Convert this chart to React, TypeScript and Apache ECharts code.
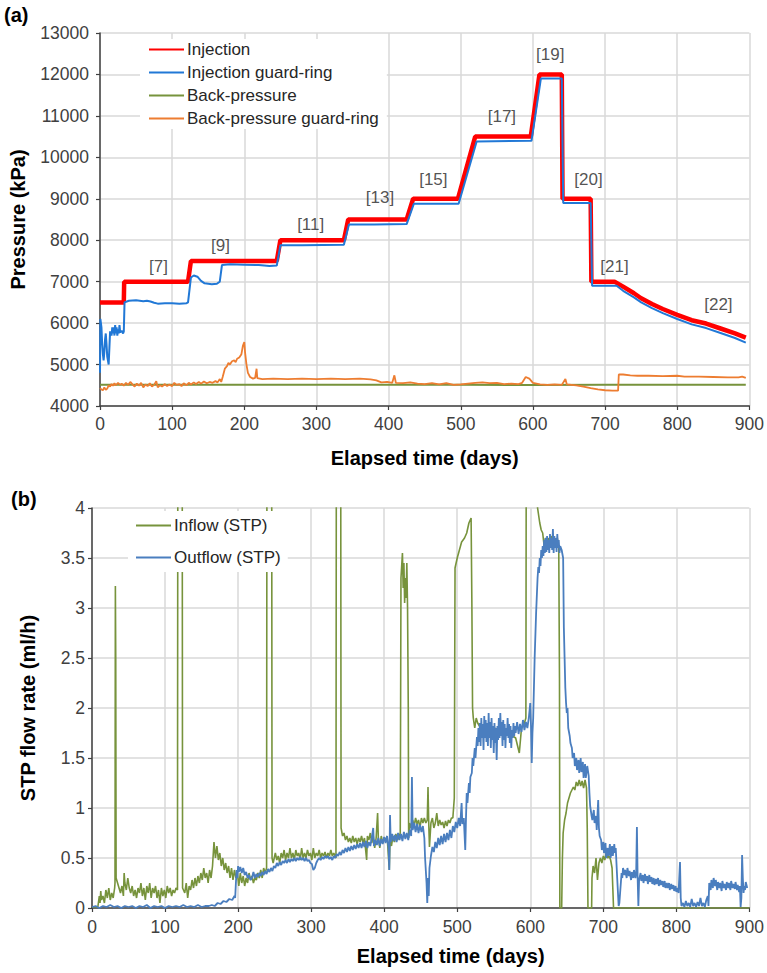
import React, { useEffect, useRef } from "react";
import * as echarts from "echarts";

// ---------- (a) pressures (kPa) vs elapsed time (days) ----------
const injection: [number, number][] = [
  [0, 6500], [33, 6500], [33.5, 7000], [122, 7000], [126, 7500], [245, 7500], [250, 8000],
  [338, 8000], [344, 8500], [425, 8500], [434, 9000], [496, 9000], [520, 10500], [597, 10500],
  [609, 12000], [640, 12000], [641, 9000], [680, 9000], [681, 7000], [713, 7000], [725, 6880],
  [740, 6720], [750, 6600], [765, 6460], [780, 6340], [800, 6200], [820, 6070], [840, 5990],
  [860, 5870], [880, 5750], [895, 5650],
];

const injectionGuard: [number, number][] = [
  [0, 4800], [0.5, 6100], [2, 5900], [3, 5500], [4, 5250], [5, 5100], [6, 5300], [7, 5600],
  [8, 5750], [9, 5500], [10, 5200], [12, 5000], [13, 5400], [14, 5800], [16, 5700], [17, 5900],
  [18, 5750], [19, 5900], [20, 5700], [21, 5950], [22, 5750], [23, 5900], [24, 5700], [25, 5850],
  [26, 5750], [27, 5950], [28, 5780], [30, 5820], [32, 5750], [33, 5800], [34, 6500], [40, 6540],
  [50, 6550], [60, 6530], [65, 6540], [70, 6520], [75, 6490], [80, 6470], [90, 6480], [100, 6480],
  [110, 6470], [120, 6480], [122, 6500], [126, 7100], [130, 7150], [135, 7120], [140, 7020],
  [145, 6960], [155, 6940], [162, 6950], [166, 7000], [169, 7400], [180, 7420], [200, 7410],
  [220, 7400], [235, 7380], [245, 7390], [250, 7880], [280, 7880], [338, 7890], [345, 8380],
  [380, 8380], [425, 8390], [435, 8880], [497, 8880], [522, 10380], [598, 10400], [611, 11900],
  [640, 11900], [642, 8900], [680, 8900], [682, 6900], [716, 6900], [725, 6780], [740, 6620],
  [750, 6500], [765, 6360], [780, 6240], [800, 6100], [820, 5970], [840, 5880], [860, 5760],
  [880, 5640], [895, 5530],
];

const backPressure: [number, number][] = [
  [0, 4510], [100, 4510], [200, 4515], [300, 4510], [400, 4510], [500, 4510], [600, 4505],
  [700, 4510], [800, 4510], [895, 4510],
];

const backPressureGuard: [number, number][] = [
  [0, 4430], [2, 4400], [4, 4380], [6, 4450], [8, 4390], [10, 4420], [12, 4500], [14, 4470],
  [16, 4530], [18, 4490], [20, 4550], [22, 4500], [25, 4560], [28, 4510], [30, 4540], [33, 4490],
  [36, 4560], [39, 4510], [42, 4580], [45, 4520], [48, 4470], [51, 4540], [54, 4490], [57, 4560],
  [60, 4450], [63, 4520], [66, 4480], [69, 4550], [72, 4470], [75, 4510], [78, 4600], [80, 4450],
  [83, 4500], [86, 4470], [90, 4530], [93, 4480], [96, 4520], [100, 4480], [103, 4560], [106, 4510],
  [110, 4530], [113, 4480], [116, 4550], [120, 4500], [123, 4560], [126, 4520], [130, 4570],
  [133, 4530], [137, 4580], [140, 4540], [144, 4590], [148, 4550], [152, 4580], [156, 4560],
  [160, 4600], [163, 4570], [166, 4650], [168, 4580], [170, 4700], [173, 4900], [176, 4960],
  [178, 5040], [180, 5000], [183, 5080], [186, 5100], [188, 5060], [190, 5140], [193, 5170],
  [196, 5250], [198, 5450], [200, 5540], [201, 5300], [203, 5000], [205, 4800], [208, 4700],
  [212, 4660], [215, 4680], [217, 4900], [218, 4670], [225, 4650], [240, 4660], [260, 4650],
  [280, 4660], [300, 4650], [320, 4660], [340, 4650], [360, 4660], [375, 4640], [383, 4620],
  [390, 4570], [398, 4580], [405, 4560], [408, 4740], [410, 4560], [420, 4550], [430, 4570],
  [440, 4540], [450, 4530], [460, 4550], [470, 4520], [480, 4550], [490, 4510], [500, 4520],
  [510, 4540], [520, 4560], [530, 4570], [540, 4550], [550, 4560], [560, 4530], [570, 4540],
  [580, 4530], [585, 4560], [590, 4700], [595, 4660], [600, 4560], [610, 4520], [620, 4510],
  [630, 4520], [640, 4510], [645, 4650], [647, 4520], [660, 4500], [670, 4470], [680, 4430],
  [690, 4400], [700, 4380], [710, 4370], [718, 4370], [719, 4760], [725, 4760], [735, 4740],
  [745, 4730], [760, 4730], [780, 4720], [800, 4730], [810, 4710], [830, 4710], [850, 4700],
  [870, 4690], [885, 4690], [890, 4710], [895, 4680],
];

const stepLabels = ["[7]", "[9]", "[11]", "[13]", "[15]", "[17]", "[19]", "[20]", "[21]", "[22]"];
const stepLabelDays = [81, 167, 292, 388, 462, 557, 624, 677, 713, 857];
const stepLabelPressures = [7378, 7861, 8368, 9019, 9470, 10981, 12470, 9454, 7362, 6461];

// ---------- (b) STP flow rates (ml/h) vs elapsed time (days) ----------
const inflow: [number, number][] = [
  [0, 0.01], [8, 0.01], [10, 0.12], [11, 0.05], [12, 0.17], [13, 0.08], [15, 0.12], [17, 0.05],
  [19, 0.18], [21, 0.1], [23, 0.2], [25, 0.08], [27, 0.15], [29, 0.1], [31, 0.2], [31.5, 0.25],
  [32, 3.22], [32.5, 2.5], [33, 0.3], [35, 0.25], [37, 0.2], [39, 0.15], [41, 0.22], [43, 0.12],
  [44, 0.35], [45, 0.25], [47, 0.18], [49, 0.3], [51, 0.2], [53, 0.15], [55, 0.22], [57, 0.12],
  [59, 0.18], [61, 0.1], [63, 0.2], [65, 0.15], [67, 0.25], [69, 0.12], [71, 0.2], [73, 0.08],
  [75, 0.22], [77, 0.15], [79, 0.25], [81, 0.1], [83, 0.2], [85, 0.15], [87, 0.22], [89, 0.1],
  [91, 0.18], [93, 0.05], [95, 0.2], [97, 0.12], [99, 0.18], [101, 0.1], [103, 0.22], [105, 0.15],
  [107, 0.2], [109, 0.12], [111, 0.18], [113, 0.15], [115, 0.2], [117, 0.18], [117.5, 4.6],
  [123.5, 4.6], [124, 0.2], [127, 0.15], [129, 0.25], [131, 0.1], [133, 0.22], [135, 0.18],
  [137, 0.28], [139, 0.2], [141, 0.3], [143, 0.22], [145, 0.32], [147, 0.25], [149, 0.35],
  [151, 0.28], [153, 0.4], [155, 0.3], [157, 0.35], [159, 0.25], [161, 0.38], [163, 0.3],
  [165, 0.42], [167, 0.66], [169, 0.5], [171, 0.62], [173, 0.48], [175, 0.55], [177, 0.42],
  [179, 0.5], [181, 0.38], [183, 0.45], [185, 0.35], [187, 0.42], [189, 0.3], [191, 0.4],
  [193, 0.28], [195, 0.38], [197, 0.3], [199, 0.35], [201, 0.22], [203, 0.35], [205, 0.25],
  [207, 0.32], [209, 0.22], [211, 0.3], [213, 0.25], [215, 0.35], [217, 0.28], [219, 0.32],
  [221, 0.25], [223, 0.3], [225, 0.28], [227, 0.35], [229, 0.3], [231, 0.38], [233, 0.3],
  [235, 0.4], [237, 0.35], [239, 0.4], [239.5, 4.6], [246, 4.6], [246.5, 0.5], [248, 0.45],
  [251, 0.55], [253, 0.48], [255, 0.52], [257, 0.45], [259, 0.55], [261, 0.5], [263, 0.58],
  [265, 0.48], [267, 0.55], [269, 0.5], [271, 0.6], [273, 0.5], [275, 0.55], [277, 0.48],
  [279, 0.58], [281, 0.52], [283, 0.55], [285, 0.48], [287, 0.6], [289, 0.5], [291, 0.55],
  [293, 0.5], [295, 0.58], [297, 0.52], [299, 0.55], [301, 0.48], [303, 0.6], [305, 0.5],
  [307, 0.55], [309, 0.52], [311, 0.58], [313, 0.5], [315, 0.55], [317, 0.52], [319, 0.56],
  [321, 0.5], [323, 0.55], [325, 0.52], [327, 0.58], [329, 0.52], [331, 0.55], [334, 0.5],
  [334.5, 4.6], [340.5, 4.6], [341, 0.8], [343, 0.72], [345, 0.75], [347, 0.68], [349, 0.72],
  [351, 0.66], [353, 0.7], [355, 0.65], [357, 0.72], [359, 0.66], [361, 0.7], [363, 0.64],
  [365, 0.7], [367, 0.66], [369, 0.72], [371, 0.65], [373, 0.7], [376, 0.48], [377, 0.72],
  [379, 0.68], [381, 0.75], [383, 0.65], [385, 0.72], [387, 0.6], [389, 0.7], [391, 0.95],
  [392, 0.7], [394, 0.6], [396, 0.72], [398, 0.65], [400, 0.7], [402, 0.68], [404, 0.72],
  [407, 0.38], [408, 0.7], [410, 0.62], [412, 0.72], [414, 0.66], [416, 0.74], [418, 0.68],
  [420, 0.7], [422, 0.75], [423, 3.3], [425, 3.55], [426, 3.2], [427, 3.45], [428, 3.05],
  [429, 3.3], [430, 3.1], [431, 3.45], [432, 3.0], [433, 2.0], [433.5, 0.7], [435, 0.85],
  [437, 0.8], [439, 0.88], [441, 0.82], [443, 0.9], [445, 0.84], [447, 0.88], [449, 0.8],
  [451, 0.9], [453, 0.85], [455, 0.9], [457, 0.85], [459, 0.88], [460, 1.21], [461, 0.85],
  [462, 0.61], [464, 0.85], [466, 0.9], [468, 0.8], [470, 0.85], [472, 0.95], [474, 0.82],
  [476, 0.88], [478, 0.83], [480, 0.86], [482, 0.8], [484, 0.87], [486, 0.82], [488, 0.88],
  [490, 0.85], [492, 0.9], [494, 0.9], [495, 1.0], [496, 1.1], [497, 3.4], [500, 3.5],
  [506, 3.66], [510, 3.7], [513, 3.75], [516, 3.85], [519, 3.9], [520, 3.1], [521, 2.0],
  [522, 1.9], [524, 1.8], [526, 1.9], [528, 1.85], [532, 1.8], [540, 1.75], [550, 1.8],
  [560, 1.78], [570, 1.75], [580, 1.7], [585, 1.55], [588, 1.8], [592, 1.85], [594, 1.9],
  [594.5, 4.6], [608, 4.6], [610, 4.0], [613, 3.85], [615, 3.78], [617, 3.75], [619, 3.62],
  [621, 3.7], [623, 3.62], [625, 3.7], [627, 3.6], [629, 3.72], [631, 3.65], [633, 3.7],
  [635, 3.62], [637, 3.7], [639, 3.6], [640, 2.3], [640.5, 0], [643, 0], [644, 0.5], [645, 0.75],
  [647, 0.88], [649, 0.95], [651, 1.05], [653, 1.1], [655, 1.15], [657, 1.18], [659, 1.21],
  [661, 1.18], [663, 1.26], [665, 1.22], [667, 1.28], [669, 1.22], [671, 1.27], [673, 1.2],
  [675, 1.28], [677, 1.2], [678, 0.8], [679, 0], [684, 0], [684.5, 0.3], [686, 0.42], [688, 0.35],
  [690, 0.5], [692, 0.28], [694, 0.45], [696, 0.5], [698, 0.45], [700, 0.52], [702, 0.48],
  [704, 0.55], [706, 0.5], [708, 0.52], [710, 0.48], [712, 0.4], [713, 0.2], [714, 0],
  [800, 0], [900, 0],
];

const outflow: [number, number][] = [
  [0, 0.01], [5, 0.02], [10, 0], [15, 0.02], [20, 0.01], [25, 0.03], [30, 0.01], [35, 0.02],
  [40, 0], [45, 0.02], [50, 0.01], [55, 0.02], [60, 0], [65, 0.02], [70, 0.01], [75, 0.03],
  [80, 0], [85, 0.02], [90, 0.01], [95, 0.02], [100, 0], [105, 0.02], [110, 0.01], [115, 0.02],
  [120, 0.01], [125, 0.03], [130, 0.01], [135, 0.02], [140, 0.01], [145, 0.03], [150, 0.01],
  [155, 0.02], [160, 0.02], [164, 0.03], [168, 0.02], [172, 0.05], [176, 0.04], [180, 0.07],
  [184, 0.06], [188, 0.09], [192, 0.08], [195, 0.12], [196, 0.1], [197, 0.25], [198, 0.38],
  [199, 0.3], [200, 0.42], [201, 0.36], [203, 0.41], [205, 0.35], [207, 0.4], [209, 0.33],
  [211, 0.36], [213, 0.3], [215, 0.33], [217, 0.28], [219, 0.3], [221, 0.36], [223, 0.3],
  [225, 0.34], [227, 0.31], [229, 0.35], [231, 0.32], [233, 0.36], [235, 0.33], [237, 0.37],
  [239, 0.34], [241, 0.39], [243, 0.36], [245, 0.4], [247, 0.37], [249, 0.42], [251, 0.4],
  [253, 0.45], [255, 0.42], [257, 0.46], [259, 0.43], [261, 0.47], [263, 0.45], [265, 0.48],
  [267, 0.45], [269, 0.49], [271, 0.46], [273, 0.49], [275, 0.47], [277, 0.5], [279, 0.47],
  [281, 0.5], [283, 0.48], [285, 0.51], [287, 0.48], [289, 0.5], [291, 0.47], [293, 0.5],
  [295, 0.47], [297, 0.48], [299, 0.45], [301, 0.44], [303, 0.38], [305, 0.4], [307, 0.45],
  [309, 0.48], [311, 0.5], [313, 0.48], [315, 0.51], [317, 0.49], [319, 0.52], [321, 0.5],
  [323, 0.52], [325, 0.49], [327, 0.51], [329, 0.48], [331, 0.52], [333, 0.5], [335, 0.54],
  [337, 0.52], [339, 0.56], [341, 0.53], [343, 0.58], [345, 0.55], [347, 0.6], [349, 0.56],
  [351, 0.61], [353, 0.57], [355, 0.62], [357, 0.58], [359, 0.63], [361, 0.59], [363, 0.64],
  [365, 0.6], [367, 0.65], [369, 0.6], [371, 0.66], [373, 0.61], [375, 0.67], [377, 0.6],
  [379, 0.66], [381, 0.62], [383, 0.7], [385, 0.8], [386, 0.62], [388, 0.68], [390, 0.63],
  [392, 0.7], [394, 0.62], [396, 0.69], [398, 0.64], [400, 0.71], [402, 0.65], [404, 0.72],
  [406, 0.6], [407, 0.38], [408, 0.93], [409, 0.66], [411, 0.74], [413, 0.67], [415, 0.73],
  [417, 0.66], [419, 0.75], [421, 0.68], [423, 0.74], [425, 0.67], [427, 0.76], [429, 0.69],
  [431, 0.75], [433, 0.68], [435, 0.78], [437, 0.72], [438, 1.31], [439, 0.78], [441, 0.85],
  [443, 0.76], [445, 0.84], [447, 0.75], [449, 0.83], [451, 0.76], [453, 0.82], [455, 0.7],
  [456, 0.5], [458, 0.25], [459, 0.05], [460, 0.3], [461, 0.12], [462, 0.4], [464, 0.52],
  [466, 0.61], [468, 0.56], [470, 0.66], [472, 0.6], [474, 0.7], [476, 0.63], [478, 0.72],
  [480, 0.64], [482, 0.74], [484, 0.66], [486, 0.75], [488, 0.68], [490, 0.78], [492, 0.7],
  [494, 0.82], [496, 0.76], [498, 0.86], [500, 0.8], [502, 0.9], [504, 0.82], [506, 1.05],
  [507, 0.84], [509, 0.9], [511, 0.58], [512, 0.9], [513, 1.15], [514, 1.05], [516, 1.25],
  [517, 1.15], [518, 1.31], [520, 1.35], [521, 1.5], [522, 1.42], [524, 1.6], [525, 1.5],
  [527, 1.71], [528, 1.62], [529, 1.8], [530, 1.66], [531, 1.85], [532, 1.62], [533, 1.9],
  [534, 1.7], [535, 1.84], [536, 1.58], [537, 1.92], [538, 1.7], [539, 1.88], [540, 1.66],
  [541, 1.85], [542, 1.62], [543, 1.95], [544, 1.7], [545, 1.86], [546, 1.6], [547, 1.9],
  [548, 1.68], [549, 1.82], [550, 1.55], [551, 1.85], [552, 1.65], [553, 1.8], [554, 1.48],
  [555, 1.82], [556, 1.68], [557, 1.9], [558, 1.7], [559, 1.95], [560, 1.72], [561, 1.86],
  [562, 1.62], [563, 1.88], [564, 1.68], [565, 1.84], [566, 1.6], [567, 1.8], [568, 1.72],
  [569, 1.9], [570, 1.7], [571, 1.84], [572, 1.65], [573, 1.82], [574, 1.6], [575, 1.78],
  [576, 1.7], [577, 1.85], [578, 1.72], [579, 1.82], [580, 1.75], [582, 1.86], [584, 1.74],
  [586, 1.84], [588, 1.76], [590, 1.88], [592, 1.78], [594, 1.86], [596, 1.8], [598, 1.9],
  [600, 2.05], [601, 1.82], [602, 1.45], [603, 1.75], [604, 1.9], [606, 2.5], [608, 2.95],
  [610, 3.3], [611, 3.41], [612, 3.35], [613, 3.5], [614, 3.42], [615, 3.58], [616, 3.5],
  [617, 3.62], [618, 3.52], [619, 3.68], [620, 3.55], [621, 3.7], [622, 3.56], [623, 3.72],
  [624, 3.58], [625, 3.68], [626, 3.55], [627, 3.74], [628, 3.6], [629, 3.7], [630, 3.58],
  [631, 3.79], [632, 3.55], [633, 3.72], [634, 3.6], [635, 3.7], [636, 3.56], [637, 3.74],
  [638, 3.6], [639, 3.68], [640, 3.55], [641, 3.62], [643, 3.58], [645, 3.5], [646, 2.8],
  [647, 2.5], [648, 2.2], [649, 2.05], [650, 1.95], [651, 2.0], [652, 1.8], [654, 1.72],
  [655, 1.65], [657, 1.6], [658, 1.5], [660, 1.55], [661, 1.42], [663, 1.5], [664, 1.38],
  [666, 1.48], [667, 1.35], [669, 1.5], [670, 1.36], [672, 1.46], [673, 1.3], [675, 1.44],
  [676, 1.3], [678, 1.42], [680, 1.32], [681, 1.15], [682, 1.02], [684, 0.92], [685, 0.88],
  [687, 0.98], [688, 0.85], [690, 0.92], [691, 0.78], [693, 1.08], [694, 0.8], [695, 0.72],
  [697, 0.68], [698, 0.58], [700, 0.66], [701, 0.55], [703, 0.65], [704, 0.5], [706, 0.6],
  [707, 0.52], [709, 0.64], [710, 0.5], [712, 0.62], [713, 0.52], [715, 0.64], [716, 0.55],
  [717, 0.6], [719, 0.3], [721, 0.02], [722, 0.05], [723, 0.15], [725, 0.35], [726, 0.3],
  [727, 0.4], [729, 0.33], [730, 0.38], [732, 0.3], [733, 0.4], [735, 0.32], [736, 0.37],
  [738, 0.28], [739, 0.36], [741, 0.3], [742, 0.38], [744, 0.3], [745, 0.35], [746, 0.81],
  [747, 0.3], [748, 0.02], [749, 0.28], [751, 0.35], [752, 0.27], [754, 0.33], [755, 0.25],
  [757, 0.34], [758, 0.27], [760, 0.32], [761, 0.24], [763, 0.33], [764, 0.26], [766, 0.31],
  [767, 0.24], [769, 0.3], [770, 0.23], [772, 0.29], [773, 0.24], [775, 0.3], [776, 0.22],
  [778, 0.28], [779, 0.23], [781, 0.27], [782, 0.21], [784, 0.27], [785, 0.2], [787, 0.25],
  [788, 0.2], [790, 0.25], [791, 0.18], [793, 0.24], [794, 0.19], [796, 0.23], [797, 0.17],
  [799, 0.22], [800, 0.16], [802, 0.2], [803, 0.15], [805, 0.46], [806, 0.1], [807, 0.02],
  [809, 0.05], [811, 0.01], [813, 0.07], [815, 0.02], [817, 0.05], [819, 0.01], [821, 0.09],
  [823, 0.02], [825, 0.05], [827, 0.01], [829, 0.06], [831, 0.02], [833, 0.1], [835, 0.02],
  [837, 0.05], [839, 0.01], [841, 0.08], [843, 0.12], [844, 0.02], [845, 0.25], [847, 0.18],
  [848, 0.28], [850, 0.2], [851, 0.3], [853, 0.22], [854, 0.28], [856, 0.18], [857, 0.26],
  [859, 0.2], [860, 0.25], [862, 0.17], [863, 0.27], [865, 0.2], [866, 0.24], [868, 0.18],
  [869, 0.26], [871, 0.2], [872, 0.25], [874, 0.18], [875, 0.27], [877, 0.2], [878, 0.24],
  [880, 0.19], [881, 0.26], [883, 0.18], [884, 0.23], [886, 0.16], [887, 0.22], [888, 0.01],
  [889, 0.1], [890, 0.53], [891, 0.3], [892, 0.15], [893, 0.22], [894, 0.18], [895, 0.26],
  [897, 0.2],
];

const FONT = "'Liberation Sans', Arial, Helvetica, sans-serif";
const AXIS_COLOR = "#404040";
const GRID_COLOR = "#d9d9d9";

function xAxisCfg(gridIndex: number, labelMargin: number, nameGap: number, namePadding: number[]) {
  return {
    type: "value",
    gridIndex,
    min: 0,
    max: 900,
    interval: 100,
    name: "Elapsed time (days)",
    nameLocation: "middle",
    nameGap,
    nameTextStyle: { fontSize: 20, fontWeight: "bold", color: "#000", fontFamily: FONT, padding: namePadding },
    axisLine: { show: true, onZero: false, lineStyle: { color: AXIS_COLOR, width: 1.5 } },
    axisTick: { show: true, length: 4, lineStyle: { color: AXIS_COLOR, width: 1.2 } },
    axisLabel: { fontSize: 17.5, color: AXIS_COLOR, margin: labelMargin, fontFamily: FONT, formatter: (v: number) => String(v) },
    splitLine: { show: true, lineStyle: { color: GRID_COLOR, width: 1.5 } },
  };
}

function yAxisCfg(gridIndex: number, min: number, max: number, interval: number, name: string, nameGap: number, labelMargin: number) {
  return {
    type: "value",
    gridIndex,
    min,
    max,
    interval,
    name,
    nameLocation: "middle",
    nameGap,
    nameTextStyle: { fontSize: 20, fontWeight: "bold", color: "#000", fontFamily: FONT },
    axisLine: { show: true, lineStyle: { color: AXIS_COLOR, width: 1.5 } },
    axisTick: { show: true, length: 4, lineStyle: { color: AXIS_COLOR, width: 1.2 } },
    axisLabel: { fontSize: 17.5, color: AXIS_COLOR, margin: labelMargin, fontFamily: FONT, formatter: (v: number) => String(v) },
    splitLine: { show: true, lineStyle: { color: GRID_COLOR, width: 1.5 } },
  };
}

const legendText = { fontSize: 17, color: "#262626", lineHeight: 16, fontFamily: FONT, padding: [0, 0, 0, -2] };

export default function App() {
  const ref = useRef<HTMLDivElement>(null);
  useEffect(() => {
    document.body.style.margin = "0";
    if (!ref.current) return;
    const chart = echarts.init(ref.current, null, { renderer: "svg" });
    const option: any = {
      animation: false,
      backgroundColor: "#fff",
      textStyle: { fontFamily: FONT },
      grid: [
        { left: 99, top: 33, width: 652, height: 373 },
        { left: 92, top: 508, width: 657.5, height: 400 },
      ],
      xAxis: [xAxisCfg(0, 9, 42, [0, 0, 0, 0]), xAxisCfg(1, 10, 38, [0, 0, 0, 60])],
      yAxis: [
        yAxisCfg(0, 4000, 13000, 1000, "Pressure (kPa)", 72, 11),
        yAxisCfg(1, 0, 4, 0.5, "STP flow rate (ml/h)", 54, 7),
      ],
      legend: [
        {
          data: ["Injection", "Injection guard-ring", "Back-pressure", "Back-pressure guard-ring"],
          orient: "vertical",
          left: 140,
          top: 39,
          padding: [2, 8, 2, 8],
          itemGap: 6,
          itemWidth: 35,
          itemHeight: 14,
          backgroundColor: "#fff",
          itemStyle: { opacity: 0 },
          textStyle: legendText,
        },
        {
          data: ["Inflow (STP)", "Outflow (STP)"],
          orient: "vertical",
          left: 128,
          top: 511,
          padding: [6, 7, 6, 7],
          itemGap: 15,
          itemWidth: 35,
          itemHeight: 14,
          backgroundColor: "#fff",
          itemStyle: { opacity: 0 },
          textStyle: legendText,
        },
      ],
      graphic: [
        { type: "text", left: 4, top: 5, style: { text: "(a)", fontSize: 20, fontWeight: "bold", fill: "#000", fontFamily: FONT } },
        { type: "text", left: 11, top: 489, style: { text: "(b)", fontSize: 20, fontWeight: "bold", fill: "#000", fontFamily: FONT } },
      ],
      series: [
        {
          name: "Injection", type: "line", xAxisIndex: 0, yAxisIndex: 0, data: injection,
          symbol: "none", lineStyle: { color: "#ff0000", width: 4.5 }, itemStyle: { color: "#ff0000" },
        },
        {
          name: "Injection guard-ring", type: "line", xAxisIndex: 0, yAxisIndex: 0, data: injectionGuard,
          symbol: "none", lineStyle: { color: "#2178d6", width: 2 }, itemStyle: { color: "#2178d6" },
        },
        {
          name: "Back-pressure", type: "line", xAxisIndex: 0, yAxisIndex: 0, data: backPressure,
          symbol: "none", lineStyle: { color: "#77933c", width: 2 }, itemStyle: { color: "#77933c" },
        },
        {
          name: "Back-pressure guard-ring", type: "line", xAxisIndex: 0, yAxisIndex: 0, data: backPressureGuard,
          symbol: "none", lineStyle: { color: "#ed7d31", width: 1.8 }, itemStyle: { color: "#ed7d31" },
        },
        {
          name: "steps", type: "scatter", xAxisIndex: 0, yAxisIndex: 0,
          data: stepLabels.map((t, i) => [stepLabelDays[i], stepLabelPressures[i], t]),
          symbolSize: 1,
          itemStyle: { color: "rgba(0,0,0,0)" },
          label: { show: true, position: "inside", formatter: (p: any) => p.data[2], fontSize: 17, color: "#262626", fontFamily: FONT },
          z: 5,
        },
        {
          name: "Inflow (STP)", type: "line", xAxisIndex: 1, yAxisIndex: 1, data: inflow,
          symbol: "none", lineStyle: { color: "#77933c", width: 1.6 }, itemStyle: { color: "#77933c" },
        },
        {
          name: "Outflow (STP)", type: "line", xAxisIndex: 1, yAxisIndex: 1, data: outflow,
          symbol: "none", lineStyle: { color: "#4a7ebf", width: 1.8 }, itemStyle: { color: "#4a7ebf" },
        },
      ],
    };
    chart.setOption(option);
    return () => chart.dispose();
  }, []);
  return <div ref={ref} style={{ width: 767, height: 973 }} />;
}
